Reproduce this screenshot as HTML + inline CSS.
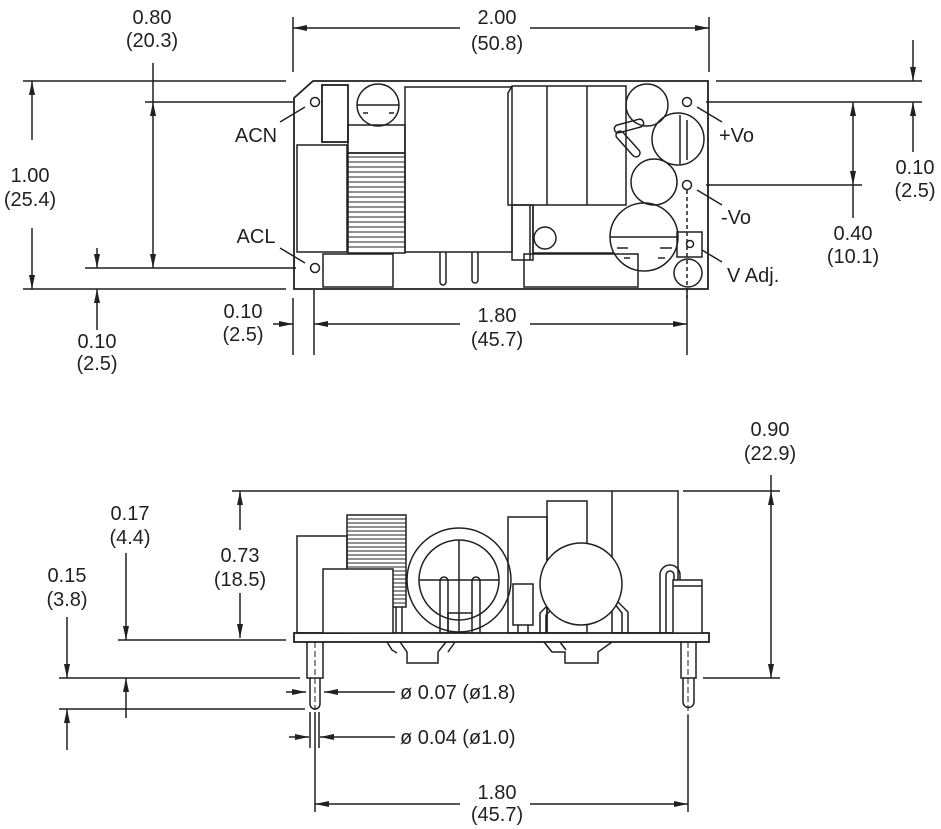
<!DOCTYPE html>
<html><head><style>
html,body{margin:0;padding:0;background:#fff}
svg{display:block}
text{font-family:"Liberation Sans",Arial,sans-serif;font-size:20px;fill:#231f20;text-anchor:middle}
</style></head><body>
<svg width="941" height="829" viewBox="0 0 941 829" xmlns="http://www.w3.org/2000/svg">
<defs>
<marker id="a" viewBox="0 0 14 6" refX="14" refY="3" markerWidth="14" markerHeight="6" markerUnits="userSpaceOnUse" orient="auto-start-reverse"><path d="M0,0L14,3L0,6z" fill="#231f20"/></marker>
</defs>
<g stroke="#231f20" stroke-width="1.5" fill="none">
<path d="M313,81 L708,81 L708,289 L294,289 L294,98 Z" stroke-width="1.8"/>
<circle cx="315" cy="102" r="4.5"/><circle cx="315" cy="268" r="4.5"/>
<circle cx="687" cy="102" r="4.5"/><circle cx="687" cy="185" r="4.5"/>
<rect x="322" y="85" width="26" height="57" stroke-width="1.8"/>
<circle cx="378" cy="105" r="21"/><line x1="357" y1="105" x2="399" y2="105"/>
<line x1="363" y1="113" x2="368" y2="113"/><line x1="389" y1="113" x2="394" y2="113"/>
<rect x="348" y="125" width="57" height="28"/>
<rect x="297" y="145" width="50" height="107"/>
<rect x="348" y="153" width="57" height="100"/>
<g stroke-width="1">
<path d="M348,157H405M348,162H405M348,167H405M348,172H405M348,177H405M348,182H405M348,187H405M348,192H405M348,197H405M348,202H405M348,207H405M348,212H405M348,217H405M348,222H405M348,227H405M348,232H405M348,237H405M348,242H405M348,247H405"/>
</g>
<rect x="405" y="87" width="107" height="165"/>
<path d="M440,252V282a3,3 0 0 0 6,0V252M472,252V280a3,3 0 0 0 6,0V252"/>
<path d="M512,86H626V205H508V93Z"/>
<line x1="547" y1="86" x2="547" y2="205"/><line x1="587" y1="86" x2="587" y2="205"/>
<rect x="512" y="205" width="21" height="55"/><line x1="530" y1="205" x2="530" y2="260"/>
<path d="M533,205V253H613"/>
<circle cx="545" cy="238" r="11"/>
<rect x="524" y="254" width="114" height="33"/>
<circle cx="647" cy="105" r="21"/>
<circle cx="678" cy="139" r="26"/><line x1="680" y1="115" x2="680" y2="164"/><line x1="687" y1="120" x2="687" y2="160"/>
<circle cx="654" cy="182" r="23"/>
<circle cx="644" cy="237" r="34"/><line x1="610" y1="237" x2="678" y2="237"/>
<line x1="617" y1="248" x2="628" y2="248"/><line x1="660" y1="248" x2="672" y2="248"/>
<line x1="624" y1="258" x2="630" y2="258"/><line x1="658" y1="258" x2="665" y2="258"/>
<rect x="677" y="232" width="25" height="25"/><circle cx="690" cy="244" r="3.5"/>
<circle cx="688" cy="273" r="14"/>
<line x1="687" y1="190" x2="687" y2="300" stroke-dasharray="4,3"/>
<rect x="614" y="122" width="30" height="8" rx="4" transform="rotate(-15 629 126)"/>
<rect x="612" y="140" width="32" height="8" rx="4" transform="rotate(48 628 144)"/>
<rect x="323" y="254" width="70" height="33"/>
<line x1="280" y1="122" x2="305" y2="107"/><line x1="280" y1="248" x2="305" y2="263"/>
<line x1="697" y1="107" x2="722" y2="122"/><line x1="697" y1="190" x2="722" y2="205"/><line x1="702" y1="250" x2="722" y2="262"/>
<path d="M293,17V72M709,17V72"/>
<line x1="293" y1="28" x2="460" y2="28" marker-start="url(#a)"/>
<line x1="530" y1="28" x2="709" y2="28" marker-end="url(#a)"/>
<path d="M23,81H286M145,102H293M85,268H296M23,289H286"/>
<line x1="153" y1="63" x2="153" y2="102" /><line x1="153" y1="102" x2="153" y2="268" marker-start="url(#a)" marker-end="url(#a)"/>
<line x1="32" y1="140" x2="32" y2="81" marker-end="url(#a)"/>
<line x1="32" y1="228" x2="32" y2="289" marker-end="url(#a)"/>
<line x1="97" y1="248" x2="97" y2="268" marker-end="url(#a)"/>
<line x1="97" y1="330" x2="97" y2="289" marker-end="url(#a)"/>
<path d="M293,298V355M314,290V355M687,290V355"/>
<line x1="273" y1="324" x2="293" y2="324" marker-end="url(#a)"/>
<line x1="460" y1="324" x2="314" y2="324" marker-end="url(#a)"/>
<line x1="530" y1="324" x2="687" y2="324" marker-end="url(#a)"/>
<path d="M716,81H922M706,102H922M706,185H862"/>
<line x1="913" y1="40" x2="913" y2="81" marker-end="url(#a)"/>
<line x1="913" y1="152" x2="913" y2="102" marker-end="url(#a)"/>
<line x1="853" y1="102" x2="853" y2="185" marker-start="url(#a)" marker-end="url(#a)"/>
<line x1="853" y1="185" x2="853" y2="218"/>
<rect x="294" y="633" width="415" height="9" stroke-width="1.8"/>
<rect x="297" y="536" width="50" height="97"/>
<rect x="347" y="515" width="59" height="92"/>
<g stroke-width="1"><path d="M347,519H406M347,523H406M347,527H406M347,531H406M347,535H406M347,539H406M347,543H406M347,547H406M347,551H406M347,555H406M347,559H406M347,563H406M347,567H406M393,571H406M393,575H406M393,579H406M393,583H406M393,587H406M393,591H406M393,595H406M393,599H406M393,603H406"/></g>
<rect x="323" y="569" width="70" height="64" fill="#fff"/>
<path d="M396,607V633M402,607V633"/>
<circle cx="459" cy="580" r="52"/><circle cx="459" cy="580" r="40"/>
<line x1="459" y1="540" x2="459" y2="633"/><line x1="419" y1="580" x2="499" y2="580"/>
<path d="M440,633V581a4,4 0 0 1 8,0V633M472,633V581a4,4 0 0 1 8,0V633"/>
<path d="M448,633V613H472"/>
<rect x="508" y="517" width="39" height="116"/>
<rect x="547" y="501" width="40" height="132"/>
<rect x="612" y="491" width="66" height="142"/>
<rect x="513" y="584" width="20" height="41" fill="#fff"/>
<path d="M518,625V633M528,625V633"/>
<path d="M540,633V613L555,598M546,633V615L558,603M622,633V613L610,598M628,633V612L614,598"/>
<circle cx="581" cy="584" r="41" fill="#fff"/>
<path d="M660,633V575a10,10 0 0 1 20,0V580M666,633V575a4,4 0 0 1 8,0V580"/>
<rect x="673" y="580" width="29" height="53" fill="#fff"/><line x1="673" y1="586" x2="702" y2="586"/>
<path d="M387,642L392,650L397,653M400,642L407,652V663H438V652L446,642M455,642L448,652"/>
<path d="M544,642L552,652H565V663H598V652L612,642M560,642L566,650"/>
<path d="M307,642V678H323V642M310,678V704a5,5 0 0 0 10,0V678"/>
<path d="M681,642V678H696V642M683,678V702a5,5 0 0 0 11,0V678"/>
<line x1="315" y1="642" x2="315" y2="710" stroke-dasharray="6,3" stroke-width="1"/>
<line x1="688" y1="642" x2="688" y2="715" stroke-dasharray="6,3" stroke-width="1"/>
<path d="M310,712V748M319,712V748M315,712V812M688,715V812"/>
<path d="M232,491H612M683,491H780M703,678H780"/>
<line x1="771" y1="475" x2="771" y2="491"/>
<line x1="771" y1="491" x2="771" y2="678" marker-start="url(#a)" marker-end="url(#a)"/>
<line x1="240" y1="530" x2="240" y2="491" marker-end="url(#a)"/>
<line x1="240" y1="593" x2="240" y2="638" marker-end="url(#a)"/>
<path d="M118,640H286M59,678H300M59,709H305"/>
<line x1="126" y1="553" x2="126" y2="640" marker-end="url(#a)"/>
<line x1="126" y1="718" x2="126" y2="678" marker-end="url(#a)"/>
<line x1="67" y1="617" x2="67" y2="678" marker-end="url(#a)"/>
<line x1="67" y1="750" x2="67" y2="709" marker-end="url(#a)"/>
<line x1="286" y1="692" x2="306" y2="692" marker-end="url(#a)"/>
<line x1="395" y1="692" x2="324" y2="692" marker-end="url(#a)"/>
<line x1="289" y1="737" x2="309" y2="737" marker-end="url(#a)"/>
<line x1="395" y1="737" x2="320" y2="737" marker-end="url(#a)"/>
<line x1="460" y1="804" x2="315" y2="804" marker-end="url(#a)"/>
<line x1="530" y1="804" x2="688" y2="804" marker-end="url(#a)"/>
</g>
<g>
<text x="152" y="24">0.80</text><text x="152" y="47">(20.3)</text>
<text x="497" y="24">2.00</text><text x="497" y="50">(50.8)</text>
<text x="30" y="182">1.00</text><text x="30" y="206">(25.4)</text>
<text x="97" y="348">0.10</text><text x="97" y="370">(2.5)</text>
<text x="243" y="318">0.10</text><text x="243" y="341">(2.5)</text>
<text x="497" y="322">1.80</text><text x="497" y="346">(45.7)</text>
<text x="915" y="174">0.10</text><text x="915" y="197">(2.5)</text>
<text x="853" y="240">0.40</text><text x="853" y="263">(10.1)</text>
<text x="256" y="142">ACN</text><text x="256" y="243">ACL</text>
<text x="719" y="142" style="text-anchor:start">+Vo</text>
<text x="721" y="224" style="text-anchor:start">-Vo</text>
<text x="727" y="282" style="text-anchor:start">V Adj.</text>
<text x="770" y="436">0.90</text><text x="770" y="460">(22.9)</text>
<text x="130" y="520">0.17</text><text x="130" y="544">(4.4)</text>
<text x="240" y="562">0.73</text><text x="240" y="586">(18.5)</text>
<text x="67" y="582">0.15</text><text x="67" y="606">(3.8)</text>
<text x="400" y="699" style="text-anchor:start">ø 0.07 (ø1.8)</text>
<text x="400" y="744" style="text-anchor:start">ø 0.04 (ø1.0)</text>
<text x="497" y="799">1.80</text><text x="497" y="821">(45.7)</text>
</g>
</svg>
</body></html>
